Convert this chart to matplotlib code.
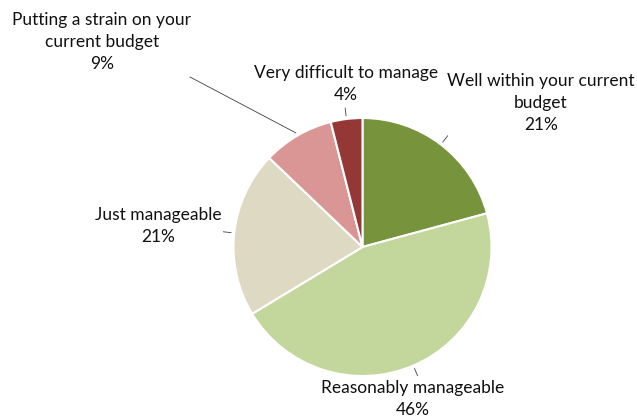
import numpy as np
import matplotlib.pyplot as plt

categories = ["Well within your current\nbudget", "Reasonably manageable",
              "Just manageable", "Putting a strain on your\ncurrent budget",
              "Very difficult to manage"]
shares = [21, 46, 21, 9, 4]
colors = ["#77933C", "#C3D69B", "#DDD9C3", "#D99694", "#953735"]

# label anchor (pixel coords, y from top) for each slice
label_pos = [(541, 103), (413, 399), (158, 226), (102, 42), (346, 84)]

W, H = 637, 419
fig = plt.figure(figsize=(W / 100, H / 100), dpi=100)
ax = fig.add_axes([0, 0, 1, 1])
ax.set_xlim(0, W)
ax.set_ylim(0, H)
ax.set_aspect("equal")
ax.axis("off")

cx, cy, r = 362.5, H - 247, 129
wedges, _ = ax.pie(shares, colors=colors, startangle=90, counterclock=False,
                   radius=r, center=(cx, cy),
                   wedgeprops=dict(edgecolor="white", linewidth=1.5))
ax.set_xlim(0, W)
ax.set_ylim(0, H)

for w, cat, val, (lx, ly) in zip(wedges, categories, shares, label_pos):
    mid = np.deg2rad((w.theta1 + w.theta2) / 2)
    ux, uy = np.cos(mid), np.sin(mid)
    ax.text(lx, H - ly, f"{cat}\n{val}%", ha="center", va="center",
            fontsize=12.5, family="Lato", color="#111111", linespacing=1.45)
    p0 = (cx + ux * r * 1.025, cy + uy * r * 1.025)
    if cat.startswith("Putting"):
        p1 = (190, H - 77)
    else:
        p1 = (cx + ux * r * 1.085, cy + uy * r * 1.085)
    ax.plot([p0[0], p1[0]], [p0[1], p1[1]], color="#404040", linewidth=0.6)

fig.savefig("out.png", dpi=100, facecolor="white")
